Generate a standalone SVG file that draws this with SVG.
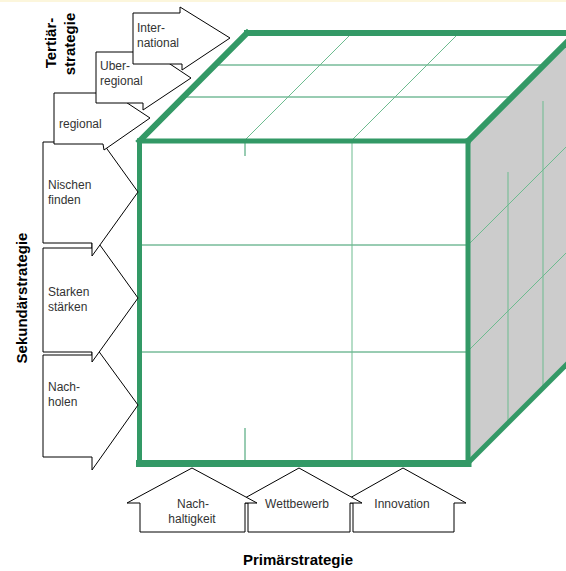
<svg xmlns="http://www.w3.org/2000/svg" width="566" height="571" viewBox="0 0 566 571">
  <style>
    .arrow { fill: #ffffff; stroke: #000000; stroke-width: 1; stroke-linejoin: miter; }
    .lbl { font-family: "Liberation Sans", Arial, sans-serif; font-size: 12px; fill: #333333; }
    .head { font-family: "Liberation Sans", Arial, sans-serif; font-size: 15px; font-weight: bold; fill: #000000; }
    .edge { stroke: #339966; fill: none; stroke-linecap: square; }
    .grid { stroke: #339966; stroke-width: 1; fill: none; }
    .soft { stroke: #6dbb8f; stroke-width: 1; fill: none; }
  </style>

  <rect x="0" y="0" width="566" height="571" fill="#ffffff"/>
  <rect x="0" y="0" width="566" height="2" fill="#fcf6dc"/>

  <!-- Cube -->
  <g id="cube">
    <!-- right side face -->
    <polygon points="468,141 566,43 566,365 468,463" fill="#cccccc"/>
    <!-- grid on the right face -->
    <line class="soft" x1="508" y1="172" x2="508" y2="423" stroke-width="1.5"/>
    <line class="soft" x1="543" y1="101" x2="543" y2="388" stroke-width="1.5"/>
    <line class="soft" x1="470" y1="243" x2="566" y2="147"/>
    <line class="soft" x1="470" y1="349" x2="566" y2="253"/>
    <!-- grid on the top face -->
    <line class="grid" x1="215" y1="65" x2="544" y2="65"/>
    <line class="grid" x1="183" y1="97" x2="512" y2="97"/>
    <line class="soft" x1="245" y1="140" x2="350" y2="35"/>
    <line class="soft" x1="352" y1="140" x2="457" y2="35"/>
    <!-- grid on the front face -->
    <line class="grid" x1="142" y1="245" x2="466" y2="245"/>
    <line class="grid" x1="142" y1="352" x2="466" y2="352"/>
    <line class="soft" x1="352" y1="143" x2="352" y2="461"/>
    <line class="grid" x1="245" y1="143" x2="245" y2="156"/>
    <line class="grid" x1="245" y1="428" x2="245" y2="461"/>
    <!-- heavy outline -->
    <line class="edge" x1="139.5" y1="141" x2="247" y2="33" stroke-width="6"/>
    <line class="edge" x1="468" y1="141" x2="576" y2="33" stroke-width="6"/>
    <line class="edge" x1="247" y1="33" x2="576" y2="33" stroke-width="6"/>
    <line class="edge" x1="468" y1="463" x2="566" y2="365" stroke-width="5"/>
    <line class="edge" x1="139.5" y1="141" x2="468" y2="141" stroke-width="5"/>
    <line class="edge" x1="139.5" y1="141" x2="139.5" y2="463" stroke-width="5"/>
    <line class="edge" x1="468" y1="141" x2="468" y2="463" stroke-width="5"/>
    <line class="edge" x1="139.5" y1="463.5" x2="468" y2="463.5" stroke-width="7"/>
  </g>

  <!-- Secondary strategy arrows (lowest first so upper ones overlap) -->
  <g id="nachholen">
    <polygon class="arrow" points="43,355 92,355 92,342 138,405 92,470 92,457 43,457"/>
    <text class="lbl" x="48" y="391">Nach-</text>
    <text class="lbl" x="48" y="406">holen</text>
  </g>
  <g id="staerken">
    <polygon class="arrow" points="43,248 92,248 92,234 138,298 92,362 92,352 43,352"/>
    <text class="lbl" x="48" y="296">Starken</text>
    <text class="lbl" x="48" y="311">stärken</text>
  </g>
  <g id="nischen">
    <polygon class="arrow" points="43,142 92,142 92,128 138,192 92,256 92,243 43,243"/>
    <text class="lbl" x="48" y="189">Nischen</text>
    <text class="lbl" x="48" y="204">finden</text>
  </g>

  <!-- Tertiary strategy arrows -->
  <g id="regional">
    <polygon class="arrow" points="54,93 103,93 103,87 150,118 104,150 103,144 54,144"/>
    <text class="lbl" x="59" y="128">regional</text>
  </g>
  <g id="ueberregional">
    <polygon class="arrow" points="96,52 143,52 143,46 191,78 143,110 143,103 96,103"/>
    <text class="lbl" x="100" y="70">Uber-</text>
    <text class="lbl" x="100" y="85">regional</text>
  </g>
  <g id="international">
    <polygon class="arrow" points="133,13 180,13 180,7 230,38 182,70 182,64 133,64"/>
    <text class="lbl" x="137" y="32">Inter-</text>
    <text class="lbl" x="137" y="47">national</text>
  </g>

  <!-- Primary strategy arrows -->
  <g id="innovation">
    <polygon class="arrow" points="353,532 353,503 341,503 403,468 466,503 454,503 454,532"/>
    <text class="lbl" x="402" y="508" text-anchor="middle">Innovation</text>
  </g>
  <g id="wettbewerb">
    <polygon class="arrow" points="248,532 248,503 236,503 299,468 362,503 350,503 350,532"/>
    <text class="lbl" x="297" y="508" text-anchor="middle">Wettbewerb</text>
  </g>
  <g id="nachhaltigkeit">
    <polygon class="arrow" points="140,532 140,503 127,503 192,468 257,503 245,503 245,532"/>
    <text class="lbl" x="193" y="508" text-anchor="middle">Nach-</text>
    <text class="lbl" x="192" y="523" text-anchor="middle">haltigkeit</text>
  </g>

  <!-- Axis titles -->
  <g id="axis-titles">
    <text class="head" x="298" y="565" text-anchor="middle">Primärstrategie</text>
    <text class="head" transform="translate(27,298) rotate(-90)" text-anchor="middle">Sekundärstrategie</text>
    <text class="head" transform="translate(56,43) rotate(-90)" text-anchor="middle">Tertiär-</text>
    <text class="head" transform="translate(75,44) rotate(-90)" text-anchor="middle">strategie</text>
  </g>
</svg>
